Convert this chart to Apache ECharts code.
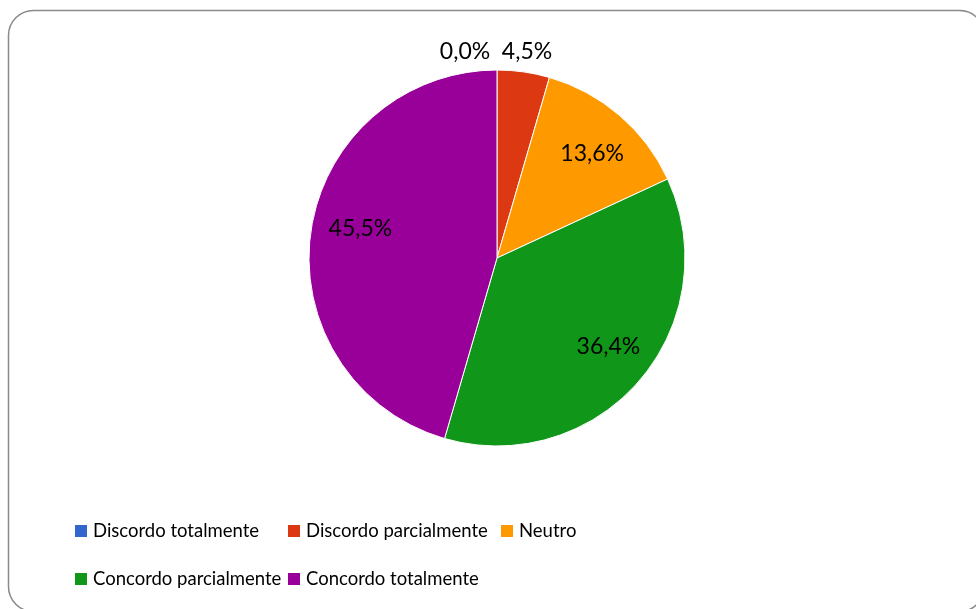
<!DOCTYPE html>
<html>
<head>
<meta charset="utf-8">
<script src="https://cdn.jsdelivr.net/npm/echarts@6/dist/echarts.min.js"></script>
<style>
html,body{margin:0;padding:0;background:#fff;}
#c{width:976px;height:609px;}
</style>
</head>
<body>
<div id="c"></div>
<script>
const categories = ['Discordo totalmente', 'Discordo parcialmente', 'Neutro', 'Concordo parcialmente', 'Concordo totalmente'];
const percentValues = [0.0, 4.5, 13.6, 36.4, 45.5];
const sliceColors = ['#3366CC', '#DC3912', '#FF9900', '#109618', '#990099'];

const FONT = 'Lato, "Open Sans", sans-serif';
function fmt(p) { return p.value.toFixed(1).replace('.', ',') + '%'; }

// label placement tweaks (best-fit nudges, in px)
const innerLabelNudge = [null, null, [2, 4], [3, -5], [5, -9]];
const outerLabelNudge = [[-32, 7], [0, 4], null, null, null];

const chart = echarts.init(document.getElementById('c'), null, { renderer: 'canvas' });

const labelStyle = { fontFamily: FONT, fontSize: 23, color: '#000' };

chart.setOption({
  animation: false,
  backgroundColor: '#fff',
  graphic: [{
    type: 'rect',
    shape: { x: 8.5, y: 10.5, width: 976, height: 601, r: 25 },
    style: { fill: 'none', stroke: '#8a8a8a', lineWidth: 1.5 },
    silent: true, z: -1
  }],
  legend: {
    data: categories.map((n, i) => ({ name: n, itemStyle: { color: sliceColors[i] } })),
    left: 73, top: 509, width: 700, padding: 0,
    orient: 'horizontal',
    icon: 'rect', itemWidth: 14, itemHeight: 14, itemGap: 4,
    selectedMode: false,
    textStyle: { fontFamily: FONT, fontSize: 18.5, color: '#000', width: 189, lineHeight: 44 }
  },
  series: [
    {
      type: 'pie', name: 'main',
      center: [497, 258], radius: [0, 188],
      startAngle: 90, clockwise: true,
      avoidLabelOverlap: false,
      label: { show: false }, labelLine: { show: false },
      itemStyle: { borderColor: '#ffffff', borderWidth: 1 },
      emphasis: { disabled: true },
      data: categories.map((name, i) => ({ name: name, value: percentValues[i], itemStyle: { color: sliceColors[i] } }))
    },
    {
      type: 'pie', name: 'innerLabels', silent: true,
      center: [497, 258], radius: [0, 280],
      startAngle: 90, clockwise: true,
      avoidLabelOverlap: false,
      itemStyle: { color: 'rgba(0,0,0,0)' },
      label: Object.assign({ show: true, position: 'inside', formatter: fmt }, labelStyle),
      labelLine: { show: false },
      emphasis: { disabled: true },
      data: categories.map((name, i) => ({
        name: name, value: percentValues[i],
        itemStyle: { color: 'rgba(0,0,0,0)' },
        label: innerLabelNudge[i] ? { show: true, offset: innerLabelNudge[i] } : { show: false }
      }))
    },
    {
      type: 'pie', name: 'outerLabels', silent: true,
      center: [497, 258], radius: [0, 420],
      startAngle: 90, clockwise: true,
      avoidLabelOverlap: false,
      itemStyle: { color: 'rgba(0,0,0,0)' },
      label: Object.assign({ show: true, position: 'inside', formatter: fmt }, labelStyle),
      labelLine: { show: false },
      emphasis: { disabled: true },
      data: categories.map((name, i) => ({
        name: name, value: percentValues[i],
        itemStyle: { color: 'rgba(0,0,0,0)' },
        label: outerLabelNudge[i] ? { show: true, offset: outerLabelNudge[i] } : { show: false }
      }))
    }
  ]
});
</script>
</body>
</html>
